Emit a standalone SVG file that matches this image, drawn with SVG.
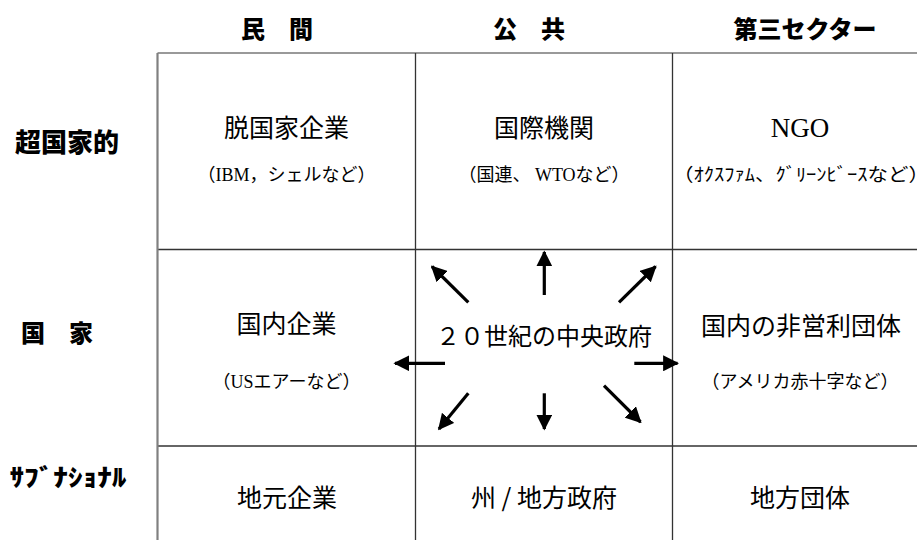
<svg xmlns="http://www.w3.org/2000/svg" width="917" height="540" viewBox="0 0 917 540">
<defs>
<style>
.hdr{font-family:"Noto Sans CJK JP",sans-serif;font-weight:900;font-size:24px;fill:#000;text-anchor:middle}
.ttl{font-family:"Noto Sans CJK JP",sans-serif;font-size:25px;fill:#000;text-anchor:middle}
.lat{font-family:"Liberation Serif","Noto Sans CJK JP",serif;font-size:27px;fill:#000;text-anchor:middle}
.sub{font-family:"Liberation Serif","Noto Sans CJK JP",serif;font-size:18px;fill:#000;text-anchor:middle}
.grid{stroke:#333;stroke-width:1.3;fill:none}
.arr{stroke:#000;stroke-width:3.2;fill:none;marker-end:url(#ah)}
</style>
<marker id="ah" viewBox="0 0 10 10" refX="9" refY="5" markerWidth="5" markerHeight="5" orient="auto" markerUnits="strokeWidth">
<path d="M0,0 L10,5 L0,10 z" fill="#000"/>
</marker>
</defs>
<rect width="917" height="540" fill="#fff"/>
<g id="grid">
<line class="grid" x1="157.5" y1="53" x2="917" y2="53" style="stroke:#777;stroke-width:1.6"/>
<line class="grid" x1="157.5" y1="249.5" x2="917" y2="249.5"/>
<line class="grid" x1="157.5" y1="446" x2="917" y2="446"/>
<line class="grid" x1="157.5" y1="53" x2="157.5" y2="540" style="stroke:#808080;stroke-width:2.2"/>
<line class="grid" x1="415.5" y1="53" x2="415.5" y2="540"/>
<line class="grid" x1="672.5" y1="53" x2="672.5" y2="540"/>
</g>
<g id="headers">
<text class="hdr" x="277" y="38">民　間</text>
<text class="hdr" x="529" y="38">公　共</text>
<text class="hdr" x="805" y="38">第三セクター</text>
</g>
<g id="rowlabels">
<text class="hdr" x="67" y="152" style="font-size:26px">超国家的</text>
<text class="hdr" x="57" y="342">国　家</text>
<text class="hdr" x="68" y="486" style="font-size:24px" textLength="117" lengthAdjust="spacingAndGlyphs">ｻﾌﾞﾅｼｮﾅﾙ</text>
</g>
<g id="cell-r1c1">
<text class="ttl" x="286.5" y="137">脱国家企業</text>
<text class="sub" x="286.5" y="181">（IBM，シェルなど）</text>
</g>
<g id="cell-r1c2">
<text class="ttl" x="544" y="137">国際機関</text>
<text class="sub" x="544" y="181">（国連、 WTOなど）</text>
</g>
<g id="cell-r1c3">
<text class="lat" x="800" y="137">NGO</text>
<text class="sub" x="673" y="181" style="text-anchor:start" textLength="256" lengthAdjust="spacingAndGlyphs">（ｵｸｽﾌｧﾑ、ｸﾞﾘｰﾝﾋﾞｰｽなど）</text>
</g>
<g id="cell-r2c1">
<text class="ttl" x="286.5" y="333">国内企業</text>
<text class="sub" x="286.5" y="388">（USエアーなど）</text>
</g>
<g id="cell-r2c2">
<text class="ttl" x="544" y="345" style="font-size:24px">２０世紀の中央政府</text>
</g>
<g id="cell-r2c3">
<text class="ttl" x="801" y="335">国内の非営利団体</text>
<text class="sub" x="800" y="388">（アメリカ赤十字など）</text>
</g>
<g id="cell-r3c1">
<text class="ttl" x="287" y="507">地元企業</text>
</g>
<g id="cell-r3c2">
<text class="ttl" x="544" y="507">州 / 地方政府</text>
</g>
<g id="cell-r3c3">
<text class="ttl" x="800" y="507">地方団体</text>
</g>
<g id="connectors">
<line class="arr" x1="544.3" y1="295" x2="544.3" y2="252"/>
<line class="arr" x1="468.3" y1="302.3" x2="432" y2="266.5"/>
<line class="arr" x1="619" y1="302.3" x2="655.5" y2="266.5"/>
<line class="arr" x1="445" y1="363.3" x2="395" y2="363.3"/>
<line class="arr" x1="634.3" y1="363.3" x2="677.5" y2="363.3"/>
<line class="arr" x1="468.3" y1="393.3" x2="439" y2="429"/>
<line class="arr" x1="544.3" y1="393.3" x2="544.3" y2="429"/>
<line class="arr" x1="604" y1="385.7" x2="640.5" y2="422"/>
</g>
</svg>
